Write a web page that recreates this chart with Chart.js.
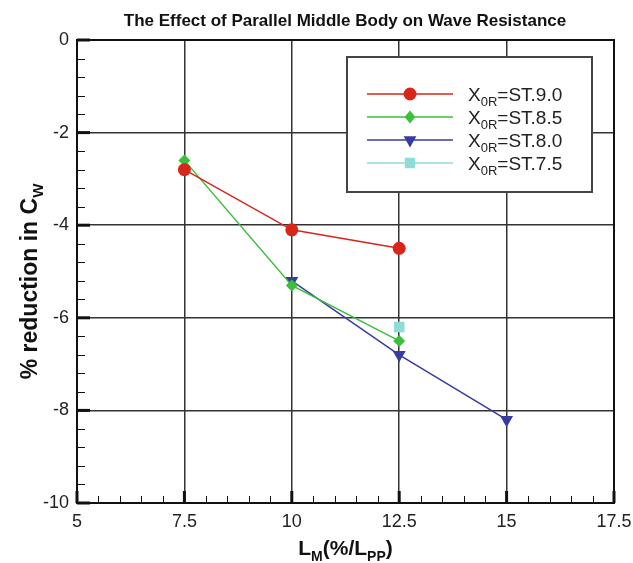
<!DOCTYPE html>
<html lang="en">
<head>
  <meta charset="UTF-8" />
  <title>The Effect of Parallel Middle Body on Wave Resistance</title>
  <script src="https://cdn.jsdelivr.net/npm/chart.js"></script>
  <style>
    body {
      margin: 0;
      background: #fff;
    }
    #wrap {
      width: 633px;
      height: 563px;
    }
  </style>
</head>
<body>
  <div id="wrap"><canvas id="cwChart"></canvas></div>

  <script>
    // data
    const seriesNames = ['ST.9.0', 'ST.8.5', 'ST.8.0', 'ST.7.5'];
    const lm90 = [7.5, 10, 12.5];
    const cw90 = [-2.8, -4.1, -4.5];
    const lm85 = [7.5, 10, 12.5];
    const cw85 = [-2.6, -5.3, -6.5];
    const lm80 = [10, 12.5, 15];
    const cw80 = [-5.2, -6.8, -8.2];
    const lm75 = [12.5];
    const cw75 = [-6.2];

    const xTicks = [5, 7.5, 10, 12.5, 15, 17.5];
    const yTicks = [-10, -8, -6, -4, -2, 0];

    const colors = ['#d8261c', '#3cbf3c', '#383c9e', '#8edcd8'];
    const markers = ['circle', 'rectRot', 'triangle', 'rect'];
    const markerSize = [6.5, 6, 7.5, 7.5];

    const pts = (xs, ys) => xs.map((x, i) => ({ x: x, y: ys[i] }));
    const allX = [lm90, lm85, lm80, lm75];
    const allY = [cw90, cw85, cw80, cw75];

    const datasets = seriesNames.map((name, i) => ({
      label: 'X0R=' + name,
      data: pts(allX[i], allY[i]),
      borderColor: colors[i],
      backgroundColor: colors[i],
      borderWidth: 1.5,
      pointStyle: markers[i],
      pointRadius: markerSize[i],
      pointRotation: markers[i] == 'triangle' ? 180 : 0,
      pointBorderWidth: 0,
      showLine: true
    }));

    function drawMarker(ctx, style, x, y, r) {
      ctx.beginPath();
      if (style == 'circle') {
        ctx.arc(x, y, r, 0, Math.PI * 2);
      } else if (style == 'rectRot') {
        ctx.moveTo(x, y - r * 1.1); ctx.lineTo(x + r * 0.9, y);
        ctx.lineTo(x, y + r * 1.1); ctx.lineTo(x - r * 0.9, y);
      } else if (style == 'triangle') {
        ctx.moveTo(x - r * 0.85, y - r * 0.5); ctx.lineTo(x + r * 0.85, y - r * 0.5);
        ctx.lineTo(x, y + r);
      } else {
        ctx.rect(x - r * 0.7, y - r * 0.7, r * 1.4, r * 1.4);
      }
      ctx.closePath();
      ctx.fill();
    }

    // text with a lowered, smaller subscript part
    function subText(ctx, parts, x, y, big, small, bold) {
      const w = bold ? 'bold ' : '';
      let cx = x;
      parts.forEach(p => {
        ctx.font = w + (p.sub ? small : big) + 'px "Liberation Sans", Arial, sans-serif';
        ctx.fillText(p.t, cx, y + (p.sub ? big * 0.28 : 0));
        cx += ctx.measureText(p.t).width;
      });
      return cx - x;
    }
    function subWidth(ctx, parts, big, small, bold) {
      const w = bold ? 'bold ' : '';
      let total = 0;
      parts.forEach(p => {
        ctx.font = w + (p.sub ? small : big) + 'px "Liberation Sans", Arial, sans-serif';
        total += ctx.measureText(p.t).width;
      });
      return total;
    }

    const decorations = {
      id: 'decorations',
      afterDatasetsDraw(chart) {
        const ctx = chart.ctx;
        const a = chart.chartArea;
        const xs = chart.scales.x, ys = chart.scales.y;
        ctx.save();

        // minor and major ticks pointing inward
        ctx.strokeStyle = '#111';
        ctx.lineWidth = 1;
        for (let v = 5.5; v < 17.5; v += 0.5) {
          if (xTicks.includes(v)) continue;
          const px = Math.round(xs.getPixelForValue(v)) + 0.5;
          ctx.beginPath(); ctx.moveTo(px, a.bottom); ctx.lineTo(px, a.bottom - 7); ctx.stroke();
        }
        for (let v = -9.6; v < 0; v += 0.4) {
          if (yTicks.some(t => Math.abs(t - v) < 0.01)) continue;
          const py = Math.round(ys.getPixelForValue(v)) + 0.5;
          ctx.beginPath(); ctx.moveTo(a.left, py); ctx.lineTo(a.left + 8, py); ctx.stroke();
        }
        ctx.lineWidth = 3;
        xTicks.forEach(v => {
          const px = xs.getPixelForValue(v);
          ctx.beginPath(); ctx.moveTo(px, a.bottom); ctx.lineTo(px, a.bottom - 12); ctx.stroke();
        });
        yTicks.forEach(v => {
          const py = ys.getPixelForValue(v);
          ctx.beginPath(); ctx.moveTo(a.left, py); ctx.lineTo(a.left + 13, py); ctx.stroke();
        });

        // frame
        ctx.lineWidth = 2;
        ctx.strokeStyle = '#111';
        ctx.strokeRect(a.left, a.top, a.right - a.left, a.bottom - a.top);

        // legend box
        const lx = 347, ly = 57, lw = 245, lh = 135;
        ctx.fillStyle = '#fff';
        ctx.fillRect(lx, ly, lw, lh);
        ctx.strokeStyle = '#444';
        ctx.lineWidth = 2;
        ctx.strokeRect(lx, ly, lw, lh);
        const rowY = [94, 117, 140, 163];
        chart.data.datasets.forEach((ds, i) => {
          const y = rowY[i];
          ctx.strokeStyle = ds.borderColor;
          ctx.lineWidth = 1.5;
          ctx.beginPath(); ctx.moveTo(367, y); ctx.lineTo(453, y); ctx.stroke();
          ctx.fillStyle = ds.borderColor;
          drawMarker(ctx, markers[i], 410, y, markerSize[i]);
          ctx.fillStyle = '#222';
          ctx.textBaseline = 'alphabetic';
          ctx.textAlign = 'left';
          subText(ctx, [{ t: 'X' }, { t: '0R', sub: true }, { t: '=' + seriesNames[i] }], 468, y + 7, 19, 13, false);
        });

        // title
        ctx.fillStyle = '#111';
        ctx.textAlign = 'center';
        ctx.textBaseline = 'alphabetic';
        ctx.font = 'bold 17px "Liberation Sans", Arial, sans-serif';
        ctx.fillText('The Effect of Parallel Middle Body on Wave Resistance', 345, 26);

        // x axis title
        ctx.textAlign = 'left';
        const xt = [{ t: 'L' }, { t: 'M', sub: true }, { t: '(%/L' }, { t: 'PP', sub: true }, { t: ')' }];
        const xw = subWidth(ctx, xt, 21, 14, true);
        subText(ctx, xt, (a.left + a.right) / 2 - xw / 2, 555, 21, 14, true);

        // y axis title
        ctx.save();
        ctx.translate(37, (a.top + a.bottom) / 2 + 10);
        ctx.rotate(-Math.PI / 2);
        const yt = [{ t: '% reduction in C' }, { t: 'W', sub: true }];
        const yw = subWidth(ctx, yt, 23, 15, true);
        subText(ctx, yt, -yw / 2, 0, 23, 15, true);
        ctx.restore();

        ctx.restore();
      }
    };

    new Chart(document.getElementById('cwChart'), {
      type: 'scatter',
      data: { datasets: datasets },
      options: {
        responsive: true,
        maintainAspectRatio: false,
        animation: false,
        layout: { padding: { top: 40, right: 19, left: 0, bottom: 0 } },
        plugins: {
          legend: { display: false },
          title: { display: false },
          tooltip: { enabled: false }
        },
        scales: {
          x: {
            type: 'linear',
            min: 5,
            max: 17.5,
            afterBuildTicks: s => { s.ticks = xTicks.map(v => ({ value: v })); },
            afterFit: s => { s.height = 60; s.paddingLeft = 0; s.paddingRight = 0; },
            ticks: {
              color: '#222',
              padding: 8,
              font: { family: '"Liberation Sans", Arial, sans-serif', size: 18 },
              callback: v => String(v)
            },
            grid: { color: '#333', lineWidth: 1.5, drawTicks: false },
            border: { display: false }
          },
          y: {
            type: 'linear',
            min: -10,
            max: 0,
            afterBuildTicks: s => { s.ticks = yTicks.map(v => ({ value: v })); },
            afterFit: s => { s.width = 77; s.paddingTop = 0; s.paddingBottom = 0; },
            ticks: {
              color: '#222',
              padding: 8,
              font: { family: '"Liberation Sans", Arial, sans-serif', size: 18 },
              callback: v => String(v)
            },
            grid: { color: '#333', lineWidth: 1.5, drawTicks: false },
            border: { display: false }
          }
        }
      },
      plugins: [decorations]
    });
  </script>
</body>
</html>
